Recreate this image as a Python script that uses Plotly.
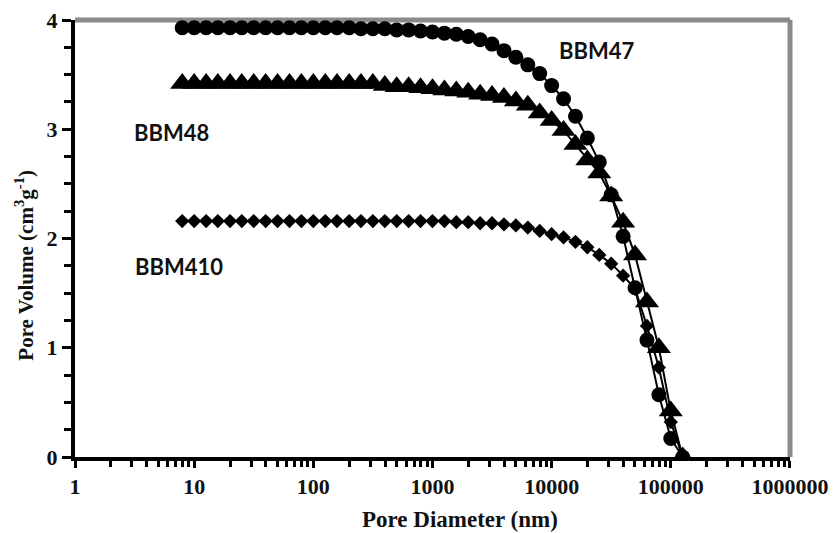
import plotly.graph_objects as go

# ---- data ----
pore_diameter_nm = [7.94, 10.0, 12.6, 15.8, 20.0, 25.1, 31.6, 39.8, 50.1, 63.1,
                    79.4, 100, 126, 158, 200, 251, 316, 398, 501, 631,
                    794, 1000, 1259, 1585, 1995, 2512, 3162, 3981, 5012, 6310,
                    7943, 10000, 12589, 15849, 19953, 25119, 31623, 39811, 50119, 63096,
                    79433, 100000, 125893]

bbm47 = [3.93, 3.93, 3.93, 3.93, 3.93, 3.93, 3.93, 3.93, 3.93, 3.93,
         3.93, 3.93, 3.93, 3.93, 3.93, 3.92, 3.92, 3.92, 3.91, 3.91,
         3.90, 3.89, 3.88, 3.87, 3.85, 3.82, 3.78, 3.72, 3.66, 3.59,
         3.51, 3.40, 3.28, 3.12, 2.92, 2.70, 2.40, 2.02, 1.55, 1.07,
         0.57, 0.17, 0.0]

bbm48 = [3.42, 3.42, 3.42, 3.42, 3.42, 3.42, 3.42, 3.42, 3.42, 3.42,
         3.42, 3.42, 3.42, 3.42, 3.42, 3.42, 3.42, 3.40, 3.39, 3.39,
         3.38, 3.37, 3.36, 3.35, 3.34, 3.32, 3.31, 3.29, 3.26, 3.22,
         3.15, 3.08, 2.99, 2.86, 2.72, 2.60, 2.39, 2.15, 1.85, 1.42,
         1.00, 0.42, 0.0]

bbm410 = [2.16, 2.16, 2.16, 2.16, 2.16, 2.16, 2.16, 2.16, 2.16, 2.16,
          2.16, 2.16, 2.16, 2.16, 2.16, 2.16, 2.16, 2.16, 2.16, 2.16,
          2.16, 2.16, 2.16, 2.15, 2.15, 2.14, 2.14, 2.13, 2.12, 2.10,
          2.07, 2.04, 2.01, 1.97, 1.92, 1.85, 1.77, 1.66, 1.54, 1.20,
          0.82, 0.32, 0.0]

x_tick_values = [1, 10, 100, 1000, 10000, 100000, 1000000]
x_tick_labels = ["1", "10", "100", "1000", "10000", "100000", "1000000"]
y_tick_values = [0, 1, 2, 3, 4]
y_tick_labels = ["0", "1", "2", "3", "4"]

series_names = ["BBM410", "BBM48", "BBM47"]

# minor tick positions (axis decoration)
x_minor = [m * 10 ** k for k in range(6) for m in range(2, 10)]
y_minor = [i * 0.25 for i in range(17) if i % 4 != 0]

# ---- figure ----
fig = go.Figure()

series = [
    (series_names[0], bbm410, "diamond", 11),
    (series_names[1], bbm48, "triangle-up", 21),
    (series_names[2], bbm47, "circle", 15),
]
for name, yvals, sym, size in series:
    fig.add_trace(go.Scatter(
        x=pore_diameter_nm, y=yvals, name=name, mode="lines+markers",
        line=dict(color="black", width=2),
        marker=dict(symbol=sym, size=size, color="black",
                    line=dict(width=0)),
        showlegend=False,
    ))

serif = "Liberation Serif, Times New Roman, serif"
label_font = dict(family="Lato, Open Sans, sans-serif", size=22, color="#111", weight="bold")

fig.update_layout(
    width=833, height=533,
    margin=dict(l=75, r=43, t=20, b=76, autoexpand=False),
    paper_bgcolor="white", plot_bgcolor="white",
    xaxis=dict(
        type="log", range=[0, 6.0005], automargin=False,
        tickvals=x_tick_values, ticktext=x_tick_labels,
        ticks="outside", ticklen=7, tickwidth=3, tickcolor="black",
        ticklabeloverflow="allow",
        minor=dict(tickvals=x_minor, ticks="outside", ticklen=6, tickwidth=3,
                   tickcolor="black", showgrid=False),
        showline=True, linecolor="black", linewidth=4,
        showgrid=False, zeroline=False,
        tickfont=dict(family=serif, size=22, color="#111", weight="bold"),
    ),
    yaxis=dict(
        range=[0, 4.0005], automargin=False,
        tickvals=y_tick_values, ticktext=y_tick_labels,
        ticks="outside", ticklen=9, tickwidth=3, tickcolor="black",
        minor=dict(tickvals=y_minor, ticks="outside", ticklen=7, tickwidth=3,
                   tickcolor="black", showgrid=False),
        showline=True, linecolor="black", linewidth=4,
        showgrid=False, zeroline=False,
        tickfont=dict(family=serif, size=22, color="#111", weight="bold"),
    ),
    shapes=[
        dict(type="line", xref="x domain", yref="y domain", x0=0, x1=1, y0=1, y1=1,
             line=dict(color="#8a8a8a", width=5), layer="below"),
        dict(type="line", xref="x domain", yref="y domain", x0=1, x1=1, y0=0, y1=1,
             line=dict(color="#8a8a8a", width=5), layer="below"),
    ],
    annotations=[
        dict(text="BBM47", xref="x", yref="y", x=4.38, y=3.72, showarrow=False, font=label_font),
        dict(text="BBM48", xref="x", yref="y", x=0.814, y=2.97, showarrow=False, font=label_font),
        dict(text="BBM410", xref="x", yref="y", x=0.873, y=1.74, showarrow=False, font=label_font),
        dict(text="Pore Diameter (nm)", xref="paper", yref="paper", x=0.538, y=-0.144,
             xanchor="center", yanchor="middle", showarrow=False,
             font=dict(family=serif, size=23, color="#111", weight="bold")),
        dict(text="Pore Volume (cm<sup>3</sup>g<sup>-1</sup>)", xref="paper", yref="paper",
             x=-0.07, y=0.44, xanchor="center", yanchor="middle", textangle=-90,
             showarrow=False, font=dict(family=serif, size=21, color="#111", weight="bold")),
    ],
)

fig.write_html("out.html")
